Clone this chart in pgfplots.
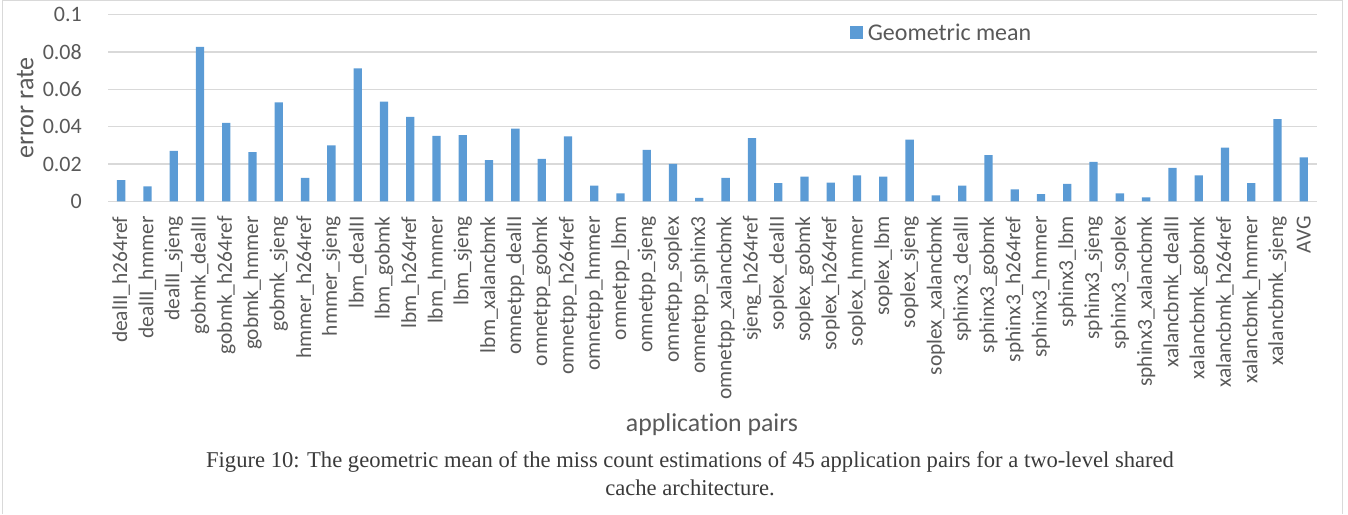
\documentclass[border=0pt]{standalone}
\usepackage{fontspec}
\setmainfont{Carlito}[Ligatures=NoCommon]
\newfontfamily\capfont{Liberation Serif}
\usepackage{pgfplots}
\usepackage{pgfplotstable}
\pgfplotsset{compat=1.18}
\definecolor{barblue}{HTML}{5B9BD5}
\definecolor{gridgray}{HTML}{D9D9D9}
\definecolor{tickgray}{HTML}{595959}
\definecolor{capgray}{HTML}{3A3A3A}
\pgfplotstableread{
x y
0 0.0114
1 0.0080
2 0.0270
3 0.0827
4 0.0420
5 0.0263
6 0.0530
7 0.0125
8 0.0300
9 0.0712
10 0.0534
11 0.0452
12 0.0350
13 0.0354
14 0.0220
15 0.0390
16 0.0227
17 0.0348
18 0.0084
19 0.0043
20 0.0275
21 0.0200
22 0.0018
23 0.0125
24 0.0338
25 0.0098
26 0.0132
27 0.0100
28 0.0139
29 0.0132
30 0.0330
31 0.0032
32 0.0084
33 0.0248
34 0.0064
35 0.0039
36 0.0093
37 0.0211
38 0.0043
39 0.0021
40 0.0179
41 0.0139
42 0.0288
43 0.0098
44 0.0441
45 0.0236
}\geomean
\begin{document}
\begin{tikzpicture}[x=1pt,y=1pt]
\path[use as bounding box] (0,0) rectangle (1348,514);
\draw[gridgray, line width=1pt] (2,0) -- (2,513) -- (1342.5,513) -- (1342.5,0);
\begin{axis}[
  at={(108pt,312.7pt)}, anchor=south west,
  scale only axis, width=1209pt, height=186.6pt,
  ymin=0, ymax=0.1,
  xmin=-0.5, xmax=45.5,
  ytick={0,0.02,0.04,0.06,0.08,0.1},
  yticklabels={0,0.02,0.04,0.06,0.08,0.1},
  xtick={0,...,45},
  xticklabels={dealII\_h264ref,dealII\_hmmer,dealII\_sjeng,gobmk\_dealII,gobmk\_h264ref,gobmk\_hmmer,gobmk\_sjeng,hmmer\_h264ref,hmmer\_sjeng,lbm\_dealII,lbm\_gobmk,lbm\_h264ref,lbm\_hmmer,lbm\_sjeng,lbm\_xalancbmk,omnetpp\_dealII,omnetpp\_gobmk,omnetpp\_h264ref,omnetpp\_hmmer,omnetpp\_lbm,omnetpp\_sjeng,omnetpp\_soplex,omnetpp\_sphinx3,omnetpp\_xalancbmk,sjeng\_h264ref,soplex\_dealII,soplex\_gobmk,soplex\_h264ref,soplex\_hmmer,soplex\_lbm,soplex\_sjeng,soplex\_xalancbmk,sphinx3\_dealII,sphinx3\_gobmk,sphinx3\_h264ref,sphinx3\_hmmer,sphinx3\_lbm,sphinx3\_sjeng,sphinx3\_soplex,sphinx3\_xalancbmk,xalancbmk\_dealII,xalancbmk\_gobmk,xalancbmk\_h264ref,xalancbmk\_hmmer,xalancbmk\_sjeng,AVG},
  axis line style={draw=none},
  major tick length=0pt,
  ymajorgrids,
  grid style={color=gridgray, line width=1.3pt},
  xticklabel style={rotate=90, anchor=east, inner sep=0pt, text=tickgray, font=\fontsize{21.4}{24}\selectfont},
  xticklabel shift=15pt,
  yticklabel style={anchor=east, inner sep=0pt, text=tickgray, font=\fontsize{22}{24}\selectfont},
  yticklabel shift=26pt,
  ybar, bar width=8.3pt,
  legend style={draw=none, fill=none, at={(0.6132,0.903)}, anchor=west, inner sep=0pt,
    font=\fontsize{24}{26}\selectfont, text=tickgray, nodes={inner sep=0pt}},
  legend image code/.code={\fill[barblue] (0pt,-6.65pt) rectangle (13.3pt,6.65pt);},
]
\addplot[fill=barblue, draw=none] table[x=x,y=y] {\geomean};
\addlegendentry{\hspace{5pt}Geometric mean}
\end{axis}
\node[rotate=90, anchor=base, text=tickgray, font=\fontsize{26}{28}\selectfont] at (33.3,406) {error rate};
\node[text=tickgray, font=\fontsize{25.8}{28}\selectfont] at (712,89) {application pairs};
\node[text=capgray, font=\capfont\fontsize{22.6}{24}\selectfont] at (690,52) {Figure 10: The geometric mean of the miss count estimations of 45 application pairs for a two-level shared};
\node[text=capgray, font=\capfont\fontsize{22.6}{24}\selectfont] at (690,26) {cache architecture.};
\end{tikzpicture}
\end{document}
